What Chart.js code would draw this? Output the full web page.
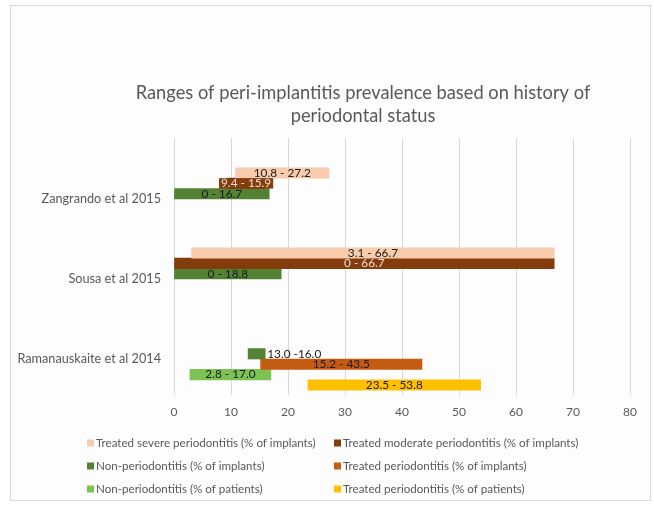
<!DOCTYPE html>
<html>
<head>
<meta charset="utf-8">
<script src="https://cdn.jsdelivr.net/npm/chart.js@4.4.1/dist/chart.umd.min.js"></script>
<style>
  html, body { margin: 0; padding: 0; background: #fff; }
  #wrap { position: relative; width: 654px; height: 507px; }
  #frame { position: absolute; left: 10px; top: 5px; width: 639px; height: 494px; border: 1px solid #d9d9d9; background: #fdfdfd; }
  canvas { position: absolute; left: 0; top: 0; }
</style>
</head>
<body>
<div id="wrap">
  <div id="frame"></div>
  <canvas id="chart" width="654" height="507"></canvas>
</div>
<script>
// categories and ranges
const studies = ['Zangrando et al 2015', 'Sousa et al 2015', 'Ramanauskaite et al 2014'];
const titleLines = ['Ranges of peri-implantitis prevalence based on history of', 'periodontal status'];
const xTicks = [0, 10, 20, 30, 40, 50, 60, 70, 80];

const severeImplants   = [[10.8, 27.2], [3.1, 66.7], null];
const moderateImplants = [[9.4, 15.9], [0, 66.7], null];
const nonPerioImplants = [[0, 16.7], [0, 18.8], [13.0, 16.0]];
const treatedImplants  = [null, null, [15.2, 43.5]];
const nonPerioPatients = [null, null, [2.8, 17.0]];
const treatedPatients  = [null, null, [23.5, 53.8]];

const severeText   = ['10.8 - 27.2', '3.1 - 66.7', null];
const moderateText = ['9.4 - 15.9', '0 - 66.7', null];
const nonPerioImplText = ['0 - 16.7', '0 - 18.8', '13.0 -16.0'];
const treatedImplText  = [null, null, '15.2 - 43.5'];
const nonPerioPatText  = [null, null, '2.8 - 17.0'];
const treatedPatText   = [null, null, '23.5 - 53.8'];

const FONT = 'Lato, Carlito, "Open Sans", sans-serif';
const GREY = '#595959';

// turn a range list into {x:[lo,hi], y:index} points, skipping gaps
function toPoints(ranges) {
  const pts = [];
  ranges.forEach((r, i) => { if (r) pts.push({ x: r, y: i }); });
  return pts;
}
function toTexts(texts) {
  return texts.filter(t => t !== null);
}

function series(label, ranges, texts, color, textColor) {
  return {
    label: label,
    data: toPoints(ranges),
    rangeLabels: toTexts(texts),
    labelColor: textColor,
    backgroundColor: color,
    borderWidth: 0,
    barThickness: 10.4
  };
}

const datasets = [
  series('Treated severe periodontitis (% of implants)', severeImplants, severeText, '#F8CBAD', '#1a1a1a'),
  series('Treated moderate periodontitis (% of implants)', moderateImplants, moderateText, '#843C0C', '#eadfd6'),
  series('Non-periodontitis (% of implants)', nonPerioImplants, nonPerioImplText, '#548235', '#1a1a1a'),
  series('Treated periodontitis (% of implants)', treatedImplants, treatedImplText, '#C55A11', '#1a1a1a'),
  series('Non-periodontitis (% of patients)', nonPerioPatients, nonPerioPatText, '#7CC353', '#1a1a1a'),
  series('Treated periodontitis (% of patients)', treatedPatients, treatedPatText, '#FFC000', '#1a1a1a')
];
// the short 13.0-16.0 bar has its label outside the bar end
datasets[2].outsideIndex = 2;

const titlePlugin = {
  id: 'twoLineTitle',
  afterDraw(chart) {
    const ctx = chart.ctx;
    ctx.save();
    ctx.font = '18.3px ' + FONT;
    ctx.fillStyle = GREY;
    ctx.textAlign = 'center';
    ctx.textBaseline = 'middle';
    titleLines.forEach((t, i) => ctx.fillText(t, 363, 93 + i * 23));
    ctx.restore();
  }
};

const rangeLabelPlugin = {
  id: 'rangeLabels',
  afterDatasetsDraw(chart) {
    const ctx = chart.ctx;
    ctx.save();
    ctx.font = '11.8px ' + FONT;
    ctx.textBaseline = 'middle';
    chart.data.datasets.forEach((ds, di) => {
      const meta = chart.getDatasetMeta(di);
      meta.data.forEach((bar, i) => {
        const p = bar.getProps(['x', 'y', 'base', 'height'], true);
        const text = ds.rangeLabels[i];
        const idx = ds.data[i].y;
        if (ds.outsideIndex === idx) {
          ctx.fillStyle = '#1a1a1a';
          ctx.textAlign = 'left';
          ctx.fillText(text, Math.max(p.x, p.base) + 2, p.y);
          return;
        }
        const cx = (p.x + p.base) / 2;
        const tw = ctx.measureText(text).width;
        // label box filled like the bar when the text is wider than it
        if (tw + 4 > Math.abs(p.x - p.base)) {
          ctx.fillStyle = ds.backgroundColor;
          ctx.fillRect(cx - tw / 2 - 2, p.y - p.height / 2, tw + 4, p.height);
        }
        ctx.fillStyle = ds.labelColor;
        ctx.textAlign = 'center';
        ctx.fillText(text, cx, p.y);
      });
    });
    ctx.restore();
  }
};

const legendPlugin = {
  id: 'gridLegend',
  afterDraw(chart) {
    const ctx = chart.ctx;
    const cols = [87, 334];
    const rows = [443, 466, 489];
    ctx.save();
    ctx.font = '11.6px ' + FONT;
    ctx.textBaseline = 'middle';
    ctx.textAlign = 'left';
    chart.data.datasets.forEach((ds, i) => {
      const x = cols[i % 2];
      const y = rows[Math.floor(i / 2)];
      ctx.fillStyle = ds.backgroundColor;
      ctx.fillRect(x, y - 3.5, 7, 7);
      ctx.fillStyle = GREY;
      ctx.fillText(ds.label, x + 9, y);
    });
    ctx.restore();
  }
};

new Chart(document.getElementById('chart'), {
  type: 'bar',
  data: { datasets: datasets },
  plugins: [titlePlugin, rangeLabelPlugin, legendPlugin],
  options: {
    indexAxis: 'y',
    responsive: false,
    animation: false,
    layout: { padding: { top: 138, right: 24, bottom: 82, left: 0 } },
    plugins: {
      legend: { display: false },
      title: { display: false },
      tooltip: { enabled: false }
    },
    scales: {
      x: {
        type: 'linear',
        min: 0,
        max: 80,
        afterBuildTicks: s => { s.ticks = xTicks.map(v => ({ value: v })); },
        afterFit: s => { s.height = 30; },
        grid: { color: '#d9d9d9', drawTicks: false },
        border: { display: false },
        ticks: { color: GREY, padding: 10, font: { family: FONT, size: 12 } }
      },
      y: {
        type: 'linear',
        reverse: true,
        offset: false,
        min: -0.7625,
        max: 2.45,
        afterBuildTicks: s => { s.ticks = studies.map((_, i) => ({ value: i })); },
        afterFit: s => { s.width = 174; },
        grid: { display: false, drawTicks: false, offset: false },
        border: { display: false },
        ticks: {
          color: GREY,
          padding: 13,
          font: { family: FONT, size: 12.7 },
          callback: v => studies[v]
        }
      }
    }
  }
});
</script>
</body>
</html>
